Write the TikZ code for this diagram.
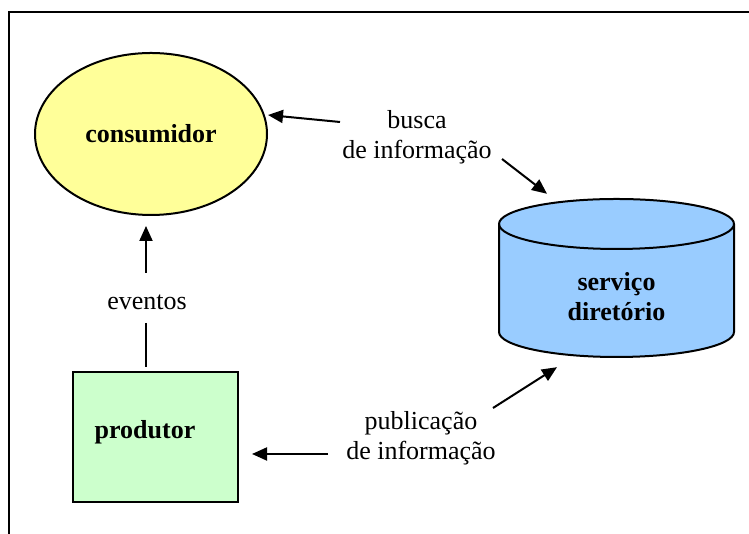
\documentclass[tikz,border=0pt]{standalone}
\usepackage{fontspec}
\setmainfont{Liberation Serif}
\usetikzlibrary{shapes.geometric,arrows.meta}

\definecolor{amarelo}{HTML}{FFFF99}
\definecolor{verde}{HTML}{CCFFCC}
\definecolor{azul}{HTML}{99CCFF}

\tikzset{
  seta/.style={line width=2pt, -{Triangle[length=15pt,width=13pt]}},
  linha/.style={line width=2pt},
  negrito/.style={font=\fontsize{26}{30}\selectfont\bfseries},
  bloco/.style={draw, line width=2pt, inner sep=0pt, negrito},
  rotulo/.style={align=center, inner sep=0pt}
}

\begin{document}
\begin{tikzpicture}[x=1pt, y=1pt, every node/.style={font=\fontsize{26}{30}\selectfont}]
\useasboundingbox (0,0) rectangle (749,534);
% frame
\draw[line width=2pt] (9,0) -- (9,522) -- (749,522);
% consumer and producer
\node[bloco, ellipse, fill=amarelo, minimum width=232pt, minimum height=162pt]
  (consumidor) at (151,400) {consumidor};
\node[bloco, rectangle, fill=verde, minimum width=165pt, minimum height=130pt,
  label={[negrito, xshift=-10.5pt, yshift=5pt]center:produtor}]
  (produtor) at (155.5,97) {};
% directory: cylinder drawn by hand round (cil)
\coordinate (cil) at (616.5,256);
\filldraw[fill=azul, line width=2pt] ([shift={(-117.5,54)}]cil) -- ++(0,-108)
  arc[start angle=180, end angle=360, x radius=117.5, y radius=25] -- ++(0,108)
  arc[start angle=0, end angle=180, x radius=117.5, y radius=25] -- cycle;
\draw[line width=2pt] ([shift={(-117.5,54)}]cil)
  arc[start angle=180, end angle=360, x radius=117.5, y radius=25];
\node[rectangle, inner sep=0pt, minimum width=235pt, minimum height=158pt,
  label={[negrito, align=center, yshift=-19pt]center:servi\c{c}o\\diret\'orio}]
  (servico) at (cil) {};
% labels
\node[rotulo] (busca) at (417,397) {busca\\de informa\c{c}\~ao};
\node[rotulo] (publicacao) at (421,96) {publica\c{c}\~ao\\de informa\c{c}\~ao};
\node[rotulo] (eventos) at (147,232) {eventos};
% arrow ends next to the labels
\coordinate (buscaA) at (340,412);
\coordinate (buscaB) at (502,375);
\coordinate (pubA) at (493,126);
\coordinate (pubB) at (328,80);
\coordinate (evA) at (146,261);
\coordinate (evB) at (146,211);
% arrows
\draw[seta] (buscaA) -- ([yshift=19pt]consumidor.east);
\draw[seta] (buscaB) -- ([shift={(-69.5pt,5pt)}]servico.north);
\draw[seta] (pubA) -- ([shift={(-59.5pt,-10pt)}]servico.south);
\draw[seta] (pubB) -- ([shift={(13pt,-17pt)}]produtor.east);
\draw[seta] (evA) -- ([yshift=-10pt]consumidor.south -| evA);
\draw[linha, shorten >=4pt] (evB) -- (produtor.north -| evB);
\end{tikzpicture}
\end{document}
